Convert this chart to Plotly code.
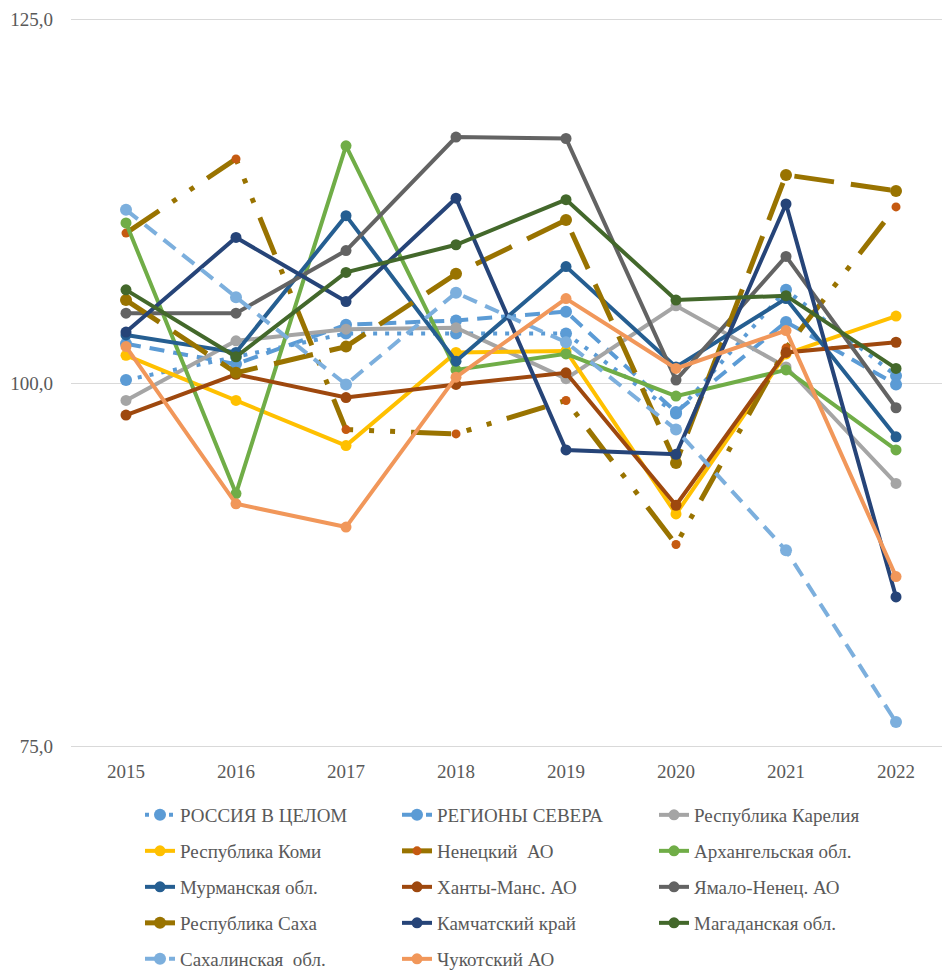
import plotly.graph_objects as go

years = ["2015", "2016", "2017", "2018", "2019", "2020", "2021", "2022"]

russia = [100.2, 101.8, 103.4, 103.4, 103.4, 97.9, 106.4, 100.5]
north = [102.7, 101.3, 104.0, 104.3, 104.9, 98.0, 104.2, 99.9]
karelia = [98.8, 102.9, 103.7, 103.8, 100.3, 105.3, 101.1, 93.1]
komi = [101.9, 98.8, 95.7, 102.1, 102.2, 91.0, 102.0, 104.6]
nenets = [110.3, 115.4, 96.8, 96.5, 98.8, 88.9, 102.4, 112.1]
arkhangelsk = [111.0, 92.4, 116.3, 100.9, 102.0, 99.1, 100.9, 95.4]
murmansk = [103.3, 102.1, 111.5, 101.5, 108.0, 101.1, 105.8, 96.3]
khanty = [97.8, 100.6, 99.0, 99.9, 100.7, 91.6, 102.1, 102.8]
yamal = [104.8, 104.8, 109.1, 116.9, 116.8, 100.2, 108.7, 98.3]
sakha = [105.7, 100.7, 102.5, 107.5, 111.2, 94.5, 114.3, 113.2]
kamchatka = [103.5, 110.0, 105.6, 112.7, 95.4, 95.1, 112.3, 85.3]
magadan = [106.4, 101.8, 107.6, 109.5, 112.6, 105.7, 106.0, 101.0]
sakhalin = [111.9, 105.9, 99.9, 106.2, 102.8, 96.8, 88.5, 76.7]
chukotka = [102.5, 91.7, 90.1, 100.4, 105.8, 101.0, 103.6, 86.7]

series = [
    ("РОССИЯ В ЦЕЛОМ", russia, "#5B9BD5", "#5B9BD5", "4px,8px", 4, 12, "legend"),
    ("РЕГИОНЫ СЕВЕРА", north, "#5B9BD5", "#5B9BD5", "15px,9px", 4, 12, "legend"),
    ("Республика Карелия", karelia, "#A5A5A5", "#A5A5A5", "solid", 4, 11, "legend"),
    ("Республика Коми", komi, "#FFC000", "#FFC000", "solid", 4, 11, "legend2"),
    ("Ненецкий  АО", nenets, "#997300", "#C55A11", "40px,16px,5px,16px,5px,16px", 5, 9, "legend2"),
    ("Архангельская обл.", arkhangelsk, "#70AD47", "#70AD47", "solid", 4, 11, "legend2"),
    ("Мурманская обл.", murmansk, "#255E91", "#255E91", "solid", 4, 11, "legend3"),
    ("Ханты-Манс. АО", khanty, "#9E480E", "#9E480E", "solid", 4, 11, "legend3"),
    ("Ямало-Ненец. АО", yamal, "#636363", "#636363", "solid", 4, 11, "legend3"),
    ("Республика Саха", sakha, "#997300", "#997300", "40px,17px", 5, 12, "legend4"),
    ("Камчатский край", kamchatka, "#264478", "#264478", "solid", 4, 11, "legend4"),
    ("Магаданская обл.", magadan, "#43682B", "#43682B", "solid", 4, 11, "legend4"),
    ("Сахалинская  обл.", sakhalin, "#7CAFDD", "#7CAFDD", "15px,9px", 4, 12, "legend5"),
    ("Чукотский АО", chukotka, "#F1975A", "#F1975A", "solid", 4, 11, "legend5"),
]

font_family = "Liberation Serif"
text_color = "#595959"

fig = go.Figure()
for name, vals, lc, mc, dash, lw, ms, lg in series:
    fig.add_trace(go.Scatter(
        x=years, y=vals, name=name, mode="lines+markers",
        line=dict(color=lc, width=lw, dash=dash),
        marker=dict(color=mc, size=ms, symbol="circle"),
        legend=lg,
    ))

W, H = 942, 970
row_y = [815, 851, 887, 923, 959]
legend_common = dict(
    orientation="h", xref="container", yref="container",
    x=140 / W, xanchor="left", yanchor="middle",
    entrywidth=212, entrywidthmode="pixels",
    font=dict(family=font_family, size=19, color=text_color),
    bgcolor="rgba(0,0,0,0)", borderwidth=0,
)
legends = {}
for i, key in enumerate(["legend", "legend2", "legend3", "legend4", "legend5"]):
    legends[key] = dict(legend_common, y=1 - row_y[i] / H)

fig.update_layout(
    width=W, height=H,
    margin=dict(l=71, r=0, t=17, b=221, autoexpand=False),
    plot_bgcolor="white", paper_bgcolor="white",
    separators=", ",
    showlegend=True,
    font=dict(family=font_family, size=19, color=text_color),
    xaxis=dict(
        type="category", range=[-0.5, 7.418],
        showgrid=False, zeroline=False, showline=False, ticks="",
        tickfont=dict(family=font_family, size=19, color=text_color),
        ticklabelstandoff=9, automargin=False,
    ),
    yaxis=dict(
        range=[74.85, 125.15], tickvals=[75, 100, 125], tickformat=".1f",
        showgrid=True, gridcolor="#D9D9D9", gridwidth=1,
        zeroline=False, showline=False, ticks="",
        tickfont=dict(family=font_family, size=19, color=text_color),
        ticklabelstandoff=17, automargin=False,
    ),
    **legends,
)

fig.write_html(
    "out.html",
    config={"displayModeBar": False},
    post_script="document.body.style.margin='0';document.body.style.overflow='hidden';",
)
